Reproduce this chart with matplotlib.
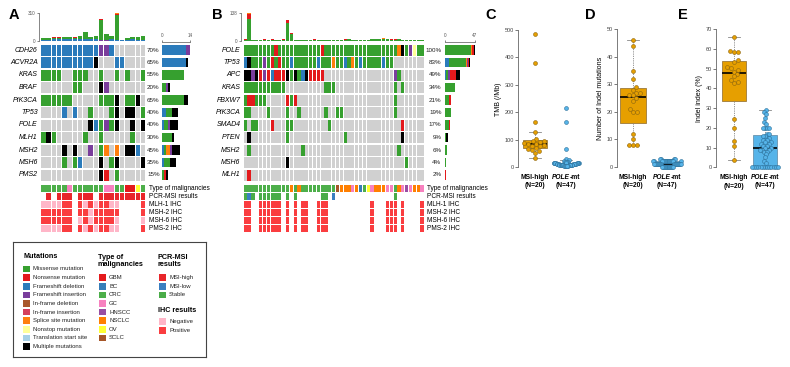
import numpy as np
import matplotlib
matplotlib.use('Agg')
import matplotlib.pyplot as plt
from matplotlib.patches import Rectangle

plt.rcParams['font.family'] = ['Liberation Sans', 'DejaVu Sans']

# ---------------- data ----------------
# mutation codes: M missense, N nonsense, D fs del, I fs ins, E inframe del,
# J inframe ins, S splice, T nonstop, L translation start, X multiple, . none
A_genes = ['CDH26', 'ACVR2A', 'KRAS', 'BRAF', 'PIK3CA', 'TP53', 'POLE', 'MLH1', 'MSH2', 'MSH6', 'PMS2']
A_muts = [
    'DDDDDDDDDD DIID......',
    'DDDDDDDDDD X...DD....',
    'MMMM..MMM. .M..M.M..M',
    '......MM.. .XI.......',
    'MMMMMM.... .MMMX.MMX.',
    '....D.D..M ...MX.XX.M',
    '.........X DMIMX..X.X',
    'MXM.....M. .M.....M..',
    '....X.X..I .MS.S.XXD.',
    '....M.MD.. .X.MX....X',
    '.......... .XN.M.....',
]
A_type = 'CCCCCGCCCC CCGGCCMMOC'
A_pcr = '.H.HHH.HHH .HHHHHHHHH'
A_mlh1 = 'NNNNPP.PNP NPPNN....P'
A_msh2 = 'PPPPPP.PPN PPPPP....P'
A_msh6 = 'PPPPPP.NPN PPPPN....N'
A_pms2 = 'NNNNPP.PNP NPPNN....P'
# top bars (mutation counts per sample)
A_top_fsdel = [12, 12, 14, 14, 15, 15, 14, 16, 15, 15, 16, 0, 0, 14, 8, 6, 12, 14, 12, 10]
A_top_fsins = [0, 0, 0, 0, 0, 0, 0, 0, 0, 0, 0, 10, 10, 0, 0, 0, 0, 0, 0, 0]
A_top_missense = [13, 13, 21, 21, 24, 24, 22, 33, 78, 24, 33, 219, 61, 40, 282, 2, 13, 26, 25, 39]
A_top_nonsense = [1, 1, 2, 2, 2, 2, 2, 3, 6, 2, 3, 12, 6, 3, 12, 0, 1, 3, 3, 3]
A_top_splice = [0, 0, 1, 1, 0, 0, 0, 1, 3, 0, 1, 4, 3, 0, 8, 0, 0, 2, 1, 1]

B_genes = ['POLE', 'TP53', 'APC', 'KRAS', 'FBXW7', 'PIK3CA', 'SMAD4', 'PTEN', 'MSH2', 'MSH6', 'MLH1']
B_muts = [
    'MMMMMMMMNM MMMMMMMMMM NMMMMMMMMM MMMMMMMMMM SXMITMM',
    'DXMMMIMNMN MMDMMMMMMD MMMSMMDMSM DMMMMMDMM. .......',
    'XXIXNINDNN NXMXMDXNNN N......... .........I M......',
    'MMMMMMMMMM M......... .MMM...... .........M .M.....',
    'MNNMMM.... .NMN...... .......... .........M .......',
    'MM....M... .M..M..... .M..MM.... .........M .......',
    'M.MM...N.. .MM....... ..M....... .......... .N.....',
    '.X........ .M........ ......M... .......... .X.....',
    '.M........ .....M.... .......... .......... M......',
    '.......... .X........ .......... .......... ..M....',
    '.N........ .......... .......... .......... .......',
]
B_type = 'CCCCCCCCCC CCNCNCCCCC CCCCSNNNGN BCOGNNNGGC NGHGNNG'
B_pcr = 'GLG.GGGGGG .G.G...... GG.L...... .........G .......'
B_ihc = 'PP..PPPPPP .P.P.PP..P PP........ ...P...PPP .P....P'
B_top_missense = [6, 110, 5, 4, 5, 6, 5, 6, 4, 5, 6, 89, 32, 4, 5, 5, 3, 4, 6, 5,
                  4, 5, 3, 4, 5, 4, 6, 7, 5, 4, 3, 4, 3, 7, 8, 8, 10, 7, 6, 6,
                  7, 5, 4, 3, 3, 3, 4]
B_top_nonsense = [2, 25, 1, 1, 1, 1, 1, 1, 1, 1, 1, 15, 8, 1, 1, 1, 1, 1, 1, 1,
                  1, 1, 1, 1, 1, 1, 1, 1, 1, 1, 1, 1, 1, 1, 1, 1, 1, 1, 1, 2,
                  2, 1, 1, 1, 0, 0, 0]
B_top_splice = [0, 3, 0, 0, 0, 0, 0, 0, 0, 0, 0, 2, 1, 0, 0, 0, 0, 0, 0, 0,
                0, 0, 0, 0, 0, 0, 0, 0, 0, 0, 0, 0, 0, 0, 1, 0, 1, 0, 0, 1,
                1, 0, 0, 0, 0, 0, 0]

# panels C-E
tmb_msi = [485, 380, 165, 127, 102, 96, 94, 91, 88, 85, 83, 80, 78, 75, 70, 66, 62, 57, 52, 34]
tmb_pole = [217, 164, 66, 30, 25, 22, 20, 19, 18, 17, 16, 16, 15, 15, 14, 14, 13, 13, 13, 12,
            12, 12, 11, 11, 11, 10, 10, 10, 9, 9, 9, 8, 8, 8, 7, 7, 7, 6, 6, 6,
            5, 5, 5, 4, 4, 3, 3]
indel_msi = [46, 44, 35, 32, 29, 28, 27, 27, 26, 26, 25, 24, 21, 20, 20, 12, 10, 8, 8, 8]
indel_pole = [3, 3, 3, 3, 2, 2, 2, 2, 2, 2, 2, 2, 2, 2, 2, 2, 2, 2, 2, 1,
              1, 1, 1, 1, 1, 1, 1, 1, 1, 1, 1, 1, 1, 1, 1, 0, 0, 0, 0, 0,
              0, 0, 0, 0, 0, 0, 0]
idx_msi = [66, 59.2, 58.7, 58.3, 54.4, 53.6, 50.8, 50.2, 49.4, 48.5, 47.3, 46.3, 44.3, 43.5,
           42.6, 24.5, 20.1, 13.4, 10.8, 3.9]
idx_pole = [29, 28, 27, 25, 23, 22, 20, 20, 20, 20, 17, 17, 16, 16, 15, 14, 14, 13, 13, 12,
            12, 11, 11, 10, 10, 9, 9, 9, 8, 8, 7, 5, 3, 2, 0, 0, 0, 0, 0, 0,
            0, 0, 0, 0, 0, 0, 0]

# ---------------- styles ----------------
mut_codes = ['M', 'N', 'D', 'I', 'E', 'J', 'S', 'T', 'L', 'X']
mut_names = ['Missense mutation', 'Nonsense mutation', 'Frameshift deletion', 'Frameshift insertion',
             'In-frame deletion', 'In-frame insertion', 'Splice site mutation', 'Nonstop mutation',
             'Translation start site', 'Multiple mutations']
mut_colors = ['#36a02f', '#e3191c', '#2b7bbb', '#7a3d9c', '#a9582b', '#d5405c', '#ff7f0e',
              '#ffff99', '#a6d0e6', '#000000']
mut_col = dict(zip(mut_codes, mut_colors))
stack_order = ['D', 'M', 'S', 'I', 'N', 'E', 'J', 'T', 'L', 'X']
GREY = '#d0d0d0'

type_codes = ['M', 'B', 'C', 'G', 'H', 'N', 'O', 'S']
type_names = ['GBM', 'BC', 'CRC', 'GC', 'HNSCC', 'NSCLC', 'OV', 'SCLC']
type_colors = ['#e41a1c', '#377eb8', '#4daf4a', '#f781bf', '#984ea3', '#ff7f00', '#ffff33', '#a65628']
type_col = dict(zip(type_codes, type_colors))
pcr_col = {'H': '#e8262a', 'L': '#3a7fc1', 'G': '#4aac48'}
ihc_col = {'N': '#ffb6c8', 'P': '#fa3d40'}

MSI_C, MSI_E = '#e69f00', '#8a6410'
POLE_C, POLE_E = '#56b4e9', '#2d6f98'

W, H = 790, 367
fig = plt.figure(figsize=(W / 100, H / 100), dpi=100)


def px_axes(x0, y0, x1, y1):
    return fig.add_axes([x0 / W, 1 - y1 / H, (x1 - x0) / W, (y1 - y0) / H])


def clean(s):
    return s.replace(' ', '')


ROW_TOP, ROW_BOT = 43.75, 181.25
ANN_TOP, ANN_BOT = 184.5, 233.0


def oncoprint(x0, x1, rx0, rx1, pct_dx, genes, muts, top_layers, top_max, right_max, anns):
    rows = [clean(r) for r in muts]
    n = len(rows[0])
    ng = len(rows)
    xs = np.arange(n)

    # top bars
    axt = px_axes(x0, 13.3, x1, 40.7)
    bottom = np.zeros(n)
    for vals, col in top_layers:
        vals = np.array(vals, float)
        axt.bar(xs, vals, bottom=bottom, width=0.85, color=col, linewidth=0)
        bottom += vals
    axt.set_xlim(-0.5, n - 0.5)
    axt.set_ylim(0, top_max)
    for s in ['top', 'right', 'bottom']:
        axt.spines[s].set_visible(False)
    axt.spines['left'].set_position(('outward', 1.5))
    axt.spines['left'].set_linewidth(0.5)
    axt.spines['left'].set_color('#555555')
    axt.set_xticks([])
    axt.set_yticks([0, top_max])
    axt.tick_params(axis='y', labelsize=3.3, length=1.5, width=0.5, pad=1, colors='#555555')

    # matrix
    axm = px_axes(x0, ROW_TOP, x1, ROW_BOT)
    for r, row in enumerate(rows):
        cols = [mut_col.get(c, GREY) for c in row]
        axm.bar(xs, 0.88, bottom=r - 0.44, width=0.84, color=cols, linewidth=0)
        axm.annotate(genes[r], xy=(0, r), xycoords=('axes fraction', 'data'), xytext=(-3, 0),
                     textcoords='offset pixels', ha='right', va='center', style='italic', fontsize=5)
        cnt = sum(c != '.' for c in row)
        axm.annotate(f'{round(100 * cnt / n)}%', xy=(1, r), xycoords=('axes fraction', 'data'),
                     xytext=(pct_dx, 0), textcoords='offset pixels', ha='right', va='center',
                     fontsize=4.5, color='#222222')
    axm.set_xlim(-0.5, n - 0.5)
    axm.set_ylim(ng - 0.5, -0.5)
    axm.axis('off')

    # right bars
    axr = px_axes(rx0, ROW_TOP, rx1, ROW_BOT)
    left = np.zeros(ng)
    for code in stack_order:
        cnt = np.array([row.count(code) for row in rows], float)
        axr.barh(np.arange(ng), cnt, left=left, height=0.75, color=mut_col[code], linewidth=0)
        left += cnt
    axr.set_ylim(ng - 0.5, -0.5)
    axr.set_xlim(0, right_max)
    for s in ['bottom', 'left', 'right']:
        axr.spines[s].set_visible(False)
    axr.spines['top'].set_position(('outward', 1.5))
    axr.spines['top'].set_linewidth(0.5)
    axr.spines['top'].set_color('#555555')
    axr.xaxis.tick_top()
    axr.set_xticks([0, right_max])
    axr.set_yticks([])
    axr.tick_params(axis='x', labelsize=3.3, length=1.5, width=0.5, pad=1, colors='#555555')

    # annotation rows
    axa = px_axes(x0, ANN_TOP, x1, ANN_BOT)
    for r, (label, row, cmap) in enumerate(anns):
        row = clean(row)
        cols = [cmap.get(c, 'white') for c in row]
        axa.bar(xs, 0.86, bottom=r - 0.43, width=0.84, color=cols, linewidth=0)
        axa.annotate(label, xy=(1, r), xycoords=('axes fraction', 'data'), xytext=(3, 0),
                     textcoords='offset pixels', ha='left', va='center', fontsize=4.7)
    axa.set_xlim(-0.5, n - 0.5)
    axa.set_ylim(len(anns) - 0.5, -0.5)
    axa.axis('off')


oncoprint(40.7, 145.7, 162.3, 190, 14, A_genes, A_muts,
          [(A_top_fsdel, mut_col['D']), (A_top_fsins, mut_col['I']), (A_top_missense, mut_col['M']),
           (A_top_nonsense, mut_col['N']), (A_top_splice, mut_col['S'])],
          310, 14,
          [('Type of malignancies', A_type, type_col), ('PCR-MSI results', A_pcr, pcr_col),
           ('MLH-1 IHC', A_mlh1, ihc_col), ('MSH-2 IHC', A_msh2, ihc_col),
           ('MSH-6 IHC', A_msh6, ihc_col), ('PMS-2 IHC', A_pms2, ihc_col)])

oncoprint(243.3, 424, 445, 475, 17.5, B_genes, B_muts,
          [(B_top_missense, mut_col['M']), (B_top_nonsense, mut_col['N']), (B_top_splice, mut_col['S'])],
          138, 47,
          [('Type of malignancies', B_type, type_col), ('PCR-MSI results', B_pcr, pcr_col),
           ('MLH-1 IHC', B_ihc, ihc_col), ('MSH-2 IHC', B_ihc, ihc_col),
           ('MSH-6 IHC', B_ihc, ihc_col), ('PMS-2 IHC', B_ihc, ihc_col)])

# ---------------- legend box ----------------
axl = px_axes(13, 242, 206, 357)
axl.set_xlim(13, 206)
axl.set_ylim(357, 242)
axl.set_xticks([])
axl.set_yticks([])
for s in axl.spines.values():
    s.set_color('#444444')
    s.set_linewidth(0.8)


def leg_item(x, y, color, label):
    axl.add_patch(Rectangle((x, y - 3.3), 7.3, 6.7, facecolor=color, edgecolor='none'))
    axl.text(x + 10, y, label, va='center', ha='left', fontsize=4.3, color='#222222')


axl.text(23, 256.5, 'Mutations', fontsize=5.2, weight='bold', va='center')
for i, (nm, c) in enumerate(zip(mut_names, mut_colors)):
    leg_item(23, 269 + 8.6 * i, c, nm)
axl.text(98, 261, 'Type of\nmalignancies', fontsize=5.2, weight='bold', va='center', linespacing=1.1)
for i, (nm, c) in enumerate(zip(type_names, type_colors)):
    leg_item(99, 277.7 + 8.6 * i, c, nm)
axl.text(158, 261, 'PCR-MSI\nresults', fontsize=5.2, weight='bold', va='center', linespacing=1.1)
for i, (nm, c) in enumerate(zip(['MSI-high', 'MSI-low', 'Stable'], [pcr_col['H'], pcr_col['L'], pcr_col['G']])):
    leg_item(159, 277.7 + 8.6 * i, c, nm)
axl.text(158, 310.7, 'IHC results', fontsize=5.2, weight='bold', va='center')
leg_item(159, 321.7, ihc_col['N'], 'Negative')
leg_item(159, 330.3, ihc_col['P'], 'Positive')


# ---------------- box plots ----------------
def tukey(v):
    v = np.sort(np.asarray(v, float))
    n = len(v)
    half = (n + 1) // 2
    lo = np.median(v[:half])
    hi = np.median(v[n - half:])
    iqr = hi - lo
    return dict(med=np.median(v), q1=lo, q3=hi,
                whislo=v[v >= lo - 1.5 * iqr].min(), whishi=v[v <= hi + 1.5 * iqr].max(), fliers=[])


def swarm(vals, ypx, xpx, d=4.0, maxw=0.42):
    # simple beeswarm in pixel space: no overlap, then squeezed to maxw
    vals = np.asarray(vals, float)
    off = np.zeros(len(vals))
    placed = []
    for i in np.argsort(vals, kind='stable'):
        y = vals[i] * ypx
        best = None
        k = 0
        while best is None:
            for x in ([0.0] if k == 0 else [k * 0.5, -k * 0.5]):
                if all((x - qx) ** 2 + (y - qy) ** 2 >= d * d for qx, qy in placed):
                    best = x
                    break
            k += 1
        placed.append((best, y))
        off[i] = best / xpx
    m = np.abs(off).max()
    if m > maxw:
        off *= maxw / m
    return off


def box_panel(x0, y0, x1, y1, xlim, msi, pole, ylim, ticks, ylabel):
    ax = px_axes(x0, y0, x1, y1)
    ypx = (y1 - y0) / (ylim[1] - ylim[0])
    xpx = (x1 - x0) / (xlim[1] - xlim[0])
    bp = ax.bxp([tukey(msi), tukey(pole)], positions=[1, 2], widths=0.75, showfliers=False,
                patch_artist=True,
                whiskerprops=dict(color='#888888', lw=0.6, ls=(0, (1.5, 1.2))),
                capprops=dict(color='#888888', lw=0.6),
                medianprops=dict(color='black', lw=1.2))
    for patch, fc, ec in zip(bp['boxes'], [MSI_C, POLE_C], ['#9c7a3a', '#6a93ad']):
        patch.set_facecolor(fc)
        patch.set_edgecolor(ec)
        patch.set_linewidth(0.6)
    for pos, vals, fc, ec in [(1, msi, MSI_C, MSI_E), (2, pole, POLE_C, POLE_E)]:
        ax.scatter(pos + swarm(vals, ypx, xpx), vals, s=8, c=fc, edgecolors=ec, linewidths=0.4, zorder=3)
    ax.set_xlim(*xlim)
    ax.set_ylim(*ylim)
    for s in ['top', 'right', 'bottom']:
        ax.spines[s].set_visible(False)
    ax.spines['left'].set_bounds(ticks[0], ticks[-1])
    ax.spines['left'].set_linewidth(0.6)
    ax.spines['left'].set_color('#666666')
    ax.set_yticks(ticks)
    ax.tick_params(axis='y', labelsize=4, length=2, width=0.5, pad=1, colors='#444444')
    ax.set_xticks([])
    ax.set_ylabel(ylabel, fontsize=5, labelpad=2)
    ax.annotate('MSI-high\n(N=20)', xy=(1, 0), xycoords=('data', 'axes fraction'), xytext=(0, -3),
                textcoords='offset pixels', ha='center', va='top', fontsize=4.8, weight='bold',
                linespacing=1.25)
    ax.annotate('POLE', xy=(2, 0), xycoords=('data', 'axes fraction'), xytext=(4, -3),
                textcoords='offset pixels', ha='right', va='top', fontsize=4.8, weight='bold',
                style='italic')
    ax.annotate('-mt', xy=(2, 0), xycoords=('data', 'axes fraction'), xytext=(4, -3),
                textcoords='offset pixels', ha='left', va='top', fontsize=4.8, weight='bold')
    ax.annotate('(N=47)', xy=(2, 0), xycoords=('data', 'axes fraction'), xytext=(0, -11),
                textcoords='offset pixels', ha='center', va='top', fontsize=4.8, weight='bold')


box_panel(518, 27.3, 583, 171.1, (0.45, 2.55), tmb_msi, tmb_pole, (-15, 510),
          [0, 100, 200, 300, 400, 500], 'TMB (/Mb)')
box_panel(617, 26.5, 684, 171.1, (0.53, 2.5), indel_msi, indel_pole, (-1.5, 51),
          [0, 10, 20, 30, 40, 50], 'Number of Indel mutations')
box_panel(716, 26.3, 782, 171.3, (0.42, 2.55), idx_msi, idx_pole, (-2, 71.5),
          [0, 10, 20, 30, 40, 50, 60, 70], 'Indel index (%)')

# panel letters
for lab, x in [('A', 14), ('B', 217), ('C', 491), ('D', 590), ('E', 683)]:
    fig.text(x / W, 1 - 15 / H, lab, fontsize=10.5, weight='bold', ha='center', va='center')

fig.savefig('out.png', dpi=100)
